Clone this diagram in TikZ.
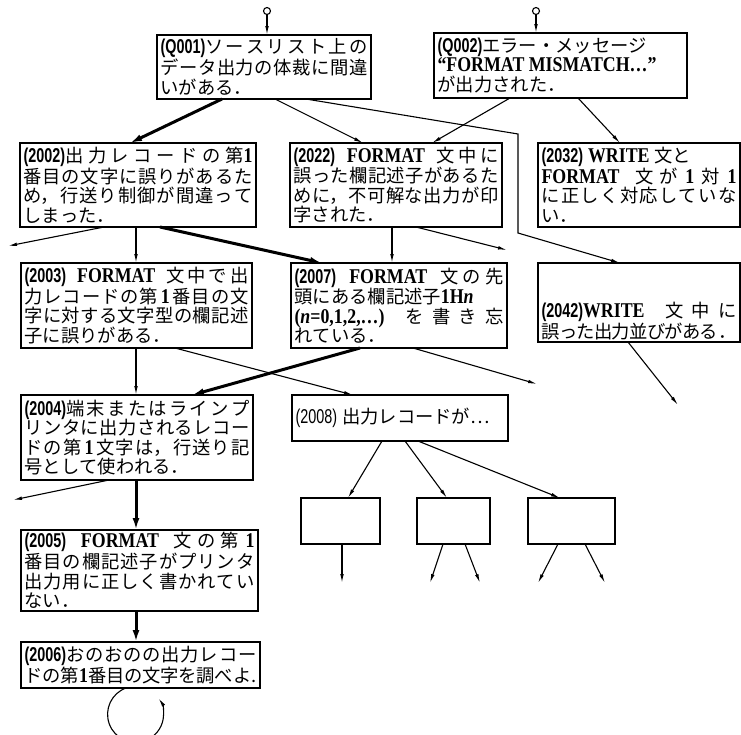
\documentclass[tikz,border=0pt]{standalone}
\usepackage{fontspec}
\newfontfamily\jp{Noto Sans CJK JP}
\newfontfamily\srf{Liberation Serif}[FakeStretch=0.85]
\newfontfamily\cdf{Liberation Sans}[FakeStretch=0.72]
\usetikzlibrary{arrows.meta}
\XeTeXlinebreaklocale "ja"
\XeTeXlinebreakskip=0pt plus 3pt minus 1pt
\XeTeXlinebreakpenalty=10000
\tolerance=10000
\hbadness=10000
\hfuzz=30pt
\lineskiplimit=-10pt
\newcommand\cod[1]{{\cdf\fontsize{20}{19.5}\selectfont\bfseries #1}}
\newcommand\codr[1]{{\cdf\fontsize{20}{19.5}\selectfont #1}}
\newcommand\lat[1]{{\srf\fontsize{21}{19.5}\selectfont\bfseries #1}}
\newcommand\brj{\unskip\break}
\newcommand\brr{\unskip\nobreak\hfil\break}
\newcommand\sps{\nobreak\hspace{5pt plus 6pt}\nobreak}
\newcommand\tg{\nobreak\hspace{2pt plus 3pt}\nobreak}
\tikzset{
  box/.style={draw, line width=1.6pt, anchor=north west, inner sep=0pt, outer sep=0pt,
    align=justify, font=\jp\fontsize{18.3}{19.5}\selectfont},
  ebox/.style={draw, line width=1.6pt, anchor=north west, inner sep=0pt, outer sep=0pt},
  thinarr/.style={line width=1.1pt, -{Latex[length=9pt,width=3.6pt]}},
  thickarr/.style={line width=3pt, -{Latex[length=12pt,width=7pt]}},
  src/.style={circle, draw, line width=1.1pt, minimum size=7pt, inner sep=0pt}
}
\newcommand\bx[6]{\node[box, minimum width=#4pt, minimum height=#5pt, text width=#6pt] (#1) at (#2,#3)}
\begin{document}
\begin{tikzpicture}[x=1pt,y=-1pt]
\fill[white] (0,0) rectangle (741,734);
\useasboundingbox (0,0) rectangle (741,734);

\bx{q1}{157}{35}{214}{64}{207} {\cod{(Q001)}ソースリスト上の\brj データ出力の体裁に間違\brj いがある．};
\bx{q2}{434}{33}{253}{65}{246} {\cod{(Q002)}エラー・メッセージ\brr\lat{“FORMAT~MISMATCH…”}\brr が出力された．};
\bx{n2002}{20}{143}{236}{84}{229} {\cod{(2002)}出力レコードの第\lat{1}\brj 番目の文字に誤りがあるた\brj め，行送り制御が間違って\brj しまった．};
\bx{n2022}{290}{143}{212}{84}{205} {\cod{(2022)}\sps\lat{FORMAT}\sps 文中に\brj 誤った欄記述子があるた\brj めに，不可解な出力が印\brj 字された．};
\bx{n2032}{538}{143}{202}{84}{195} {\cod{(2032)}\hspace{5pt}\lat{WRITE}\hspace{5pt}文と\brr\lat{FORMAT}\sps 文が\tg\lat{1}\tg 対\tg\lat{1}\brj に正しく対応していな\brj い．};
\bx{n2003}{21}{263}{231}{85}{224} {\cod{(2003)}\sps\lat{FORMAT}\sps 文中で出\brj 力レコードの第\tg\lat{1}\tg 番目の文\brj 字に対する文字型の欄記述\brj 子に誤りがある．};
\bx{n2007}{291}{263}{216}{85}{209} {\cod{(2007)}\sps\lat{FORMAT}\sps 文の先\brj 頭にある欄記述子\lat{1H\textit{n}}\brr\lat{(\textit{n}=0,1,2,…)}\sps を書き忘\brj れている．};
\bx{n2042}{538}{263}{202}{79}{195} {\rule{0pt}{52pt}\cod{(2042)}\lat{WRITE}\sps 文中に\brj 誤った出力並びがある．};
\bx{n2004}{21}{395}{232}{85}{225} {\cod{(2004)}端末またはラインプ\brj リンタに出力されるレコー\brj ドの第\tg\lat{1}\tg 文字は，行送り記\brj 号として使われる．};
\bx{n2008}{292}{395}{216}{46}{209} {\parfillskip=0pt \codr{(2008)}\sps 出力レコードが…};
\bx{n2005}{21}{530}{237}{81}{230} {\cod{(2005)}\sps\lat{FORMAT}\sps 文の第\tg\lat{1}\brj 番目の欄記述子がプリンタ\brj 出力用に正しく書かれてい\brj ない．};
\bx{n2006}{21}{642}{239}{46}{232} {\cod{(2006)}おのおのの出力レコー\brj ドの第\lat{1}番目の文字を調べよ.};

\node[ebox, minimum width=79pt, minimum height=46pt] (ea) at (301,498) {};
\node[ebox, minimum width=73pt, minimum height=46pt] (eb) at (417,498) {};
\node[ebox, minimum width=87pt, minimum height=46pt] (ec) at (528,498) {};

\node[src] (s1) at (267,11) {};
\node[src] (s2) at (536,11) {};
\draw[thinarr] (s1) -- (s1 |- q1.north);
\draw[thinarr] (s2) -- (s2 |- q2.north);

\coordinate (k1) at (518,134);
\coordinate (k2) at (518,233);
\coordinate (f1) at (8,246);
\coordinate (f2) at (507,250);
\coordinate (f3) at (537,384);
\coordinate (f4) at (678,405);
\coordinate (f5) at (13,500);
\coordinate (g1) at (342,583);
\coordinate (g2) at (430,583);
\coordinate (g3) at (480,583);
\coordinate (g4) at (538,583);
\coordinate (g5) at (605,583);

\draw[thickarr] ([xshift=65pt]q1.south west) -- ([xshift=110pt]n2002.north west);
\draw[thinarr] ([xshift=118pt]q1.south west) -- ([xshift=73pt]n2022.north west);
\draw[thinarr] ([xshift=149pt]q1.south west) -- (k1) -- (k2) -- ([xshift=82pt]n2042.north west);
\draw[thinarr] ([xshift=76pt]q2.south west) -- ([xshift=142pt]n2022.north west);
\draw[thinarr] ([xshift=144pt]q2.south west) -- ([xshift=82pt]n2032.north west);

\draw[thinarr] ([xshift=84pt]n2002.south west) -- (f1);
\draw[thinarr] ([xshift=116pt]n2002.south west) -- ([xshift=115pt]n2003.north west);
\draw[thickarr] ([xshift=140pt]n2002.south west) -- ([xshift=31pt]n2007.north west);
\draw[thinarr] ([xshift=102pt]n2022.south west) -- ([xshift=101pt]n2007.north west);
\draw[thinarr] ([xshift=126pt]n2022.south west) -- (f2);

\draw[thinarr] ([xshift=115pt]n2003.south west) -- ([xshift=115pt]n2004.north west);
\draw[thinarr] ([xshift=154pt]n2003.south west) -- ([xshift=61pt]n2008.north west);
\draw[thickarr] ([xshift=69pt]n2007.south west) -- ([xshift=171pt]n2004.north west);
\draw[thinarr] ([xshift=122pt]n2007.south west) -- (f3);
\draw[thinarr] ([xshift=90pt]n2042.south west) -- (f4);

\draw[thinarr] ([xshift=88pt]n2004.south west) -- (f5);
\draw[thickarr] ([xshift=115pt]n2004.south west) -- ([xshift=115pt]n2005.north west);
\draw[thickarr] ([xshift=115pt]n2005.south west) -- ([xshift=115pt]n2006.north west);
\draw[thinarr] ([xshift=105pt]n2006.south west) arc[start angle=250, end angle=-35, radius=28];

\draw[thinarr] ([xshift=90pt]n2008.south west) -- ([xshift=47pt]ea.north west);
\draw[thinarr] ([xshift=113pt]n2008.south west) -- ([xshift=30pt]eb.north west);
\draw[thinarr] ([xshift=126pt]n2008.south west) -- ([xshift=32pt]ec.north west);
\draw[thinarr] ([xshift=41pt]ea.south west) -- (g1);
\draw[thinarr] ([xshift=26pt]eb.south west) -- (g2);
\draw[thinarr] ([xshift=48pt]eb.south west) -- (g3);
\draw[thinarr] ([xshift=30pt]ec.south west) -- (g4);
\draw[thinarr] ([xshift=57pt]ec.south west) -- (g5);
\end{tikzpicture}
\end{document}
